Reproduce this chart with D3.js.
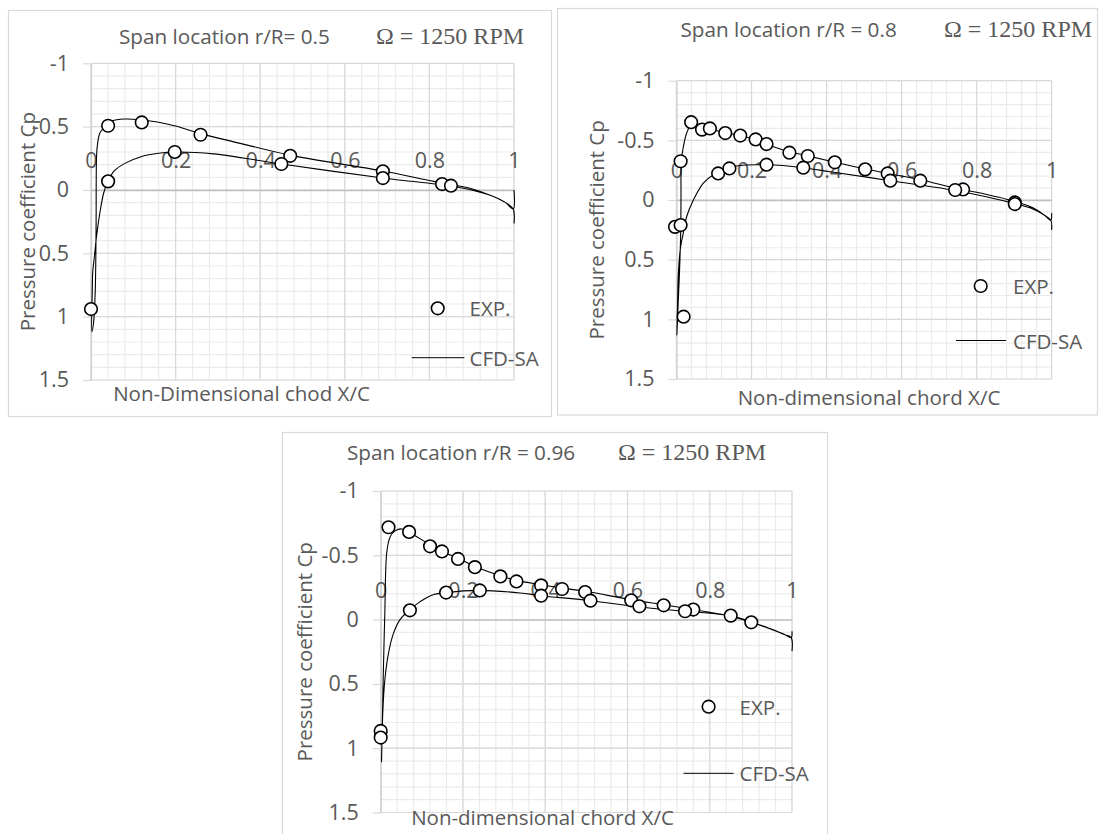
<!DOCTYPE html>
<html>
<head>
<meta charset="utf-8">
<script src="https://cdn.jsdelivr.net/npm/d3@7"></script>
<style>
  body { margin: 0; background: #fff; }
  svg { display: block; font-family: 'Open Sans', sans-serif; }
</style>
</head>
<body>
<svg id="fig" width="1100" height="834"></svg>
<script>
// tick labels and legend entries
const xTicks = [0, 0.2, 0.4, 0.6, 0.8, 1]
const yTicks = [-1, -0.5, 0, 0.5, 1, 1.5]
const seriesNames = ['EXP.', 'CFD-SA']
const spanLabels = ['Span location r/R= 0.5', 'Span location r/R = 0.8', 'Span location r/R = 0.96']
const rpmLabel = 'Ω = 1250 RPM'
const yTitle = 'Pressure coefficient Cp'
const xTitles = ['Non-Dimensional chod X/C', 'Non-dimensional chord X/C', 'Non-dimensional chord X/C']

// experimental points [x/c, Cp]
const exp05 = [[0, 0.94], [0.0405, -0.507], [0.12, -0.533], [0.259, -0.436], [0.471, -0.27],
  [0.69, -0.147], [0.83, -0.047], [0.0405, -0.068], [0.198, -0.30], [0.45, -0.205],
  [0.69, -0.094], [0.851, -0.034]]
const exp08 = [[-0.004, 0.225], [0.011, 0.21], [0.011, -0.325], [0.019, 0.978], [0.039, -0.652],
  [0.068, -0.59], [0.089, -0.60], [0.13, -0.561], [0.17, -0.54], [0.211, -0.508], [0.24, -0.469],
  [0.301, -0.397], [0.35, -0.369], [0.422, -0.316], [0.503, -0.257], [0.563, -0.223], [0.65, -0.162],
  [0.764, -0.089], [0.902, 0.02], [0.111, -0.223], [0.141, -0.265], [0.24, -0.296], [0.338, -0.271],
  [0.57, -0.162], [0.743, -0.084], [0.902, 0.034]]
const exp096 = [[0.019, -0.718], [0.069, -0.682], [0.12, -0.57], [0.149, -0.53], [0.188, -0.472],
  [0.229, -0.408], [0.291, -0.336], [0.33, -0.297], [0.39, -0.266], [0.441, -0.238], [0.497, -0.214],
  [0.609, -0.15], [0.688, -0.111], [0.76, -0.078], [0.851, -0.031], [0.901, 0.021], [0, 0.866],
  [0, 0.917], [0.071, -0.072], [0.159, -0.21], [0.241, -0.227], [0.39, -0.186], [0.51, -0.147],
  [0.629, -0.103], [0.74, -0.065]]

// CFD curves, traced trailing edge -> upper surface -> leading edge -> lower surface -> trailing edge
const cfd05 = [[1, 0.265], [0.998, 0.15], [0.98, 0.10], [0.95, 0.05], [0.9, -0.01], [0.83, -0.055],
  [0.8, -0.075], [0.69, -0.15], [0.6, -0.2], [0.47, -0.275], [0.35, -0.37], [0.26, -0.445],
  [0.2, -0.505], [0.16, -0.535], [0.12, -0.553], [0.08, -0.56], [0.05, -0.545], [0.033, -0.5],
  [0.021, -0.45], [0.015, -0.35], [0.013, -0.25], [0.012, 0.3], [0.01, 0.8], [0.006, 1.05],
  [0.002, 1.12], [0.003, 0.8], [0.004, 0.655], [0.009, 0.497], [0.013, 0.366], [0.021, 0.18],
  [0.03, 0.024], [0.04, -0.068], [0.055, -0.15], [0.08, -0.21], [0.12, -0.265], [0.16, -0.29],
  [0.2, -0.30], [0.29, -0.285], [0.45, -0.205], [0.69, -0.095], [0.85, -0.032], [0.9, 0],
  [0.95, 0.05], [0.98, 0.10], [0.998, 0.15], [1, 0]]
const cfd08 = [[1, 0.25], [0.998, 0.17], [0.98, 0.125], [0.95, 0.065], [0.9, 0.01], [0.8, -0.065],
  [0.75, -0.095], [0.65, -0.17], [0.56, -0.225], [0.5, -0.262], [0.42, -0.318], [0.35, -0.37],
  [0.3, -0.405], [0.24, -0.468], [0.21, -0.505], [0.17, -0.54], [0.13, -0.565], [0.09, -0.592],
  [0.06, -0.61], [0.04, -0.63], [0.027, -0.56], [0.018, -0.44], [0.013, -0.33], [0.012, 0],
  [0.011, 0.3], [0.008, 0.6], [0.004, 0.9], [0.001, 1.13], [0.003, 0.85], [0.005, 0.614],
  [0.011, 0.39], [0.018, 0.28], [0.027, 0.14], [0.045, 0], [0.071, -0.14], [0.098, -0.21],
  [0.111, -0.223], [0.141, -0.265], [0.16, -0.285], [0.24, -0.295], [0.338, -0.271], [0.41, -0.237],
  [0.57, -0.162], [0.743, -0.08], [0.902, 0.03], [0.95, 0.075], [0.98, 0.125], [0.998, 0.17], [1, 0.11]]
const cfd096 = [[1, 0.245], [0.998, 0.14], [0.981, 0.116], [0.946, 0.072], [0.901, 0.021],
  [0.851, -0.026], [0.76, -0.078], [0.688, -0.116], [0.609, -0.155], [0.497, -0.22], [0.441, -0.245],
  [0.39, -0.271], [0.33, -0.305], [0.291, -0.341], [0.229, -0.413], [0.188, -0.478], [0.149, -0.53],
  [0.12, -0.581], [0.069, -0.68], [0.051, -0.705], [0.035, -0.69], [0.023, -0.645], [0.015, -0.53],
  [0.01, -0.05], [0.006, 0.47], [0.004, 0.8], [0.002, 1.105], [0.005, 0.73], [0.01, 0.47],
  [0.019, 0.26], [0.031, 0.107], [0.047, 0], [0.07, -0.075], [0.096, -0.14], [0.124, -0.19],
  [0.159, -0.21], [0.241, -0.227], [0.339, -0.207], [0.39, -0.186], [0.51, -0.147], [0.629, -0.098],
  [0.74, -0.065], [0.851, -0.03], [0.901, 0.018], [0.946, 0.07], [0.981, 0.114], [0.998, 0.14], [1, 0.09]]

// where each panel sits on the page
const panels = [
  { exp: exp05, cfd: cfd05, box: [8.5, 10.5, 551.5, 416.5], x0: 91, x1: 514, top: 63.3, bottom: 380,
    titleY: 43.7, spanX: 119, rpmX: 376, yTitleX: 27, xTitleX: 241.5, xTitleY: 401,
    legCircle: [437.7, 308.3], legLine: [411.7, 464.3, 357.7], legTextX: 469.5 },
  { exp: exp08, cfd: cfd08, box: [557.5, 8.5, 1097.5, 415], x0: 676.5, x1: 1051.6, top: 80.7, bottom: 379,
    titleY: 37, spanX: 680.5, rpmX: 944, yTitleX: 596, xTitleX: 869, xTitleY: 405,
    legCircle: [980.7, 286], legLine: [956, 1006, 340.5], legTextX: 1013 },
  { exp: exp096, cfd: cfd096, box: [282.5, 432.5, 827.5, 850], x0: 380.7, x1: 792, top: 491, bottom: 812.5,
    titleY: 460, spanX: 347, rpmX: 618, yTitleX: 304, xTitleX: 542.5, xTitleY: 825,
    legCircle: [708.6, 706.7], legLine: [683.6, 733.6, 773.3], legTextX: 739.6 }
]

const textGrey = '#595959'
const svg = d3.select('#fig')

panels.forEach((p, i) => {
  const g = svg.append('g')

  // panel frame
  g.append('rect')
    .attr('x', p.box[0]).attr('y', p.box[1])
    .attr('width', p.box[2] - p.box[0]).attr('height', p.box[3] - p.box[1])
    .attr('fill', '#fff').attr('stroke', '#d9d9d9').attr('stroke-width', 1.2)

  const x = d3.scaleLinear().domain([0, 1]).range([p.x0, p.x1])
  const y = d3.scaleLinear().domain([-1, 1.5]).range([p.top, p.bottom])

  // minor grid
  const minorX = d3.range(0, 1.0001, 0.04)
  const minorY = d3.range(-1, 1.5001, 0.1)
  g.selectAll('.mx').data(minorX).enter().append('line')
    .attr('x1', d => x(d)).attr('x2', d => x(d)).attr('y1', p.top).attr('y2', p.bottom)
    .attr('stroke', '#ebebeb').attr('stroke-width', 1.2)
  g.selectAll('.my').data(minorY).enter().append('line')
    .attr('x1', p.x0).attr('x2', p.x1).attr('y1', d => y(d)).attr('y2', d => y(d))
    .attr('stroke', '#ebebeb').attr('stroke-width', 1.2)

  // major grid
  g.selectAll('.gx').data(xTicks).enter().append('line')
    .attr('x1', d => x(d)).attr('x2', d => x(d)).attr('y1', p.top).attr('y2', p.bottom)
    .attr('stroke', '#d9d9d9').attr('stroke-width', 1.2)
  g.selectAll('.gy').data(yTicks).enter().append('line')
    .attr('x1', p.x0).attr('x2', p.x1).attr('y1', d => y(d)).attr('y2', d => y(d))
    .attr('stroke', '#d9d9d9').attr('stroke-width', 1.2)

  // y axis on the left, reversed so suction is up
  const yAxis = g.append('g')
    .attr('transform', `translate(${p.x0},0)`)
    .call(d3.axisLeft(y).tickValues(yTicks).tickSize(8).tickSizeOuter(0).tickPadding(14)
      .tickFormat(d => String(d)))
  yAxis.select('.domain').attr('stroke', '#cfcfcf').attr('stroke-width', 1.2)
  yAxis.selectAll('.tick line').attr('stroke', '#d9d9d9').attr('stroke-width', 1.2)
  yAxis.selectAll('text').attr('fill', textGrey).attr('font-size', 21.5)
    .attr('font-family', "'Open Sans', sans-serif")

  // x axis crosses at Cp = 0, labels sit above it
  const xAxis = g.append('g')
    .attr('transform', `translate(0,${y(0)})`)
    .call(d3.axisTop(x).tickValues(xTicks).tickSize(0).tickSizeOuter(0).tickPadding(22)
      .tickFormat(d => String(d)))
  xAxis.select('.domain').attr('stroke', '#bfbfbf').attr('stroke-width', 1.3)
  xAxis.selectAll('text').attr('fill', textGrey).attr('font-size', 21.5)
    .attr('font-family', "'Open Sans', sans-serif")

  // titles
  g.append('text').attr('x', p.spanX).attr('y', p.titleY)
    .attr('font-size', 20.7).attr('fill', textGrey).text(spanLabels[i])
  g.append('text').attr('x', p.rpmX).attr('y', p.titleY)
    .attr('font-family', "'Liberation Serif', 'Times New Roman', serif")
    .attr('font-size', 24).attr('fill', textGrey).text(rpmLabel)

  g.append('text')
    .attr('transform', `translate(${p.yTitleX},${(p.top + p.bottom) / 2}) rotate(-90)`)
    .attr('text-anchor', 'middle').attr('dominant-baseline', 'central')
    .attr('font-size', 20.5).attr('fill', textGrey).text(yTitle)
  g.append('text').attr('x', p.xTitleX).attr('y', p.xTitleY)
    .attr('text-anchor', 'middle').attr('font-size', 20.5).attr('fill', textGrey).text(xTitles[i])

  // CFD line
  const line = d3.line()
    .x(d => x(d[0])).y(d => y(d[1]))
    .curve(d3.curveCatmullRom.alpha(0.5))
  g.append('path').datum(p.cfd)
    .attr('d', line).attr('fill', 'none').attr('stroke', '#000').attr('stroke-width', 1.1)

  // experimental circles
  g.selectAll('.exp').data(p.exp).enter().append('circle')
    .attr('cx', d => x(d[0])).attr('cy', d => y(d[1])).attr('r', 6.3)
    .attr('fill', '#fff').attr('stroke', '#000').attr('stroke-width', 1.6)

  // legend
  g.append('circle').attr('cx', p.legCircle[0]).attr('cy', p.legCircle[1]).attr('r', 6.3)
    .attr('fill', '#fff').attr('stroke', '#000').attr('stroke-width', 1.6)
  g.append('text').attr('x', p.legTextX).attr('y', p.legCircle[1])
    .attr('dominant-baseline', 'central').attr('font-size', 20.5).attr('fill', textGrey)
    .text(seriesNames[0])
  g.append('line').attr('x1', p.legLine[0]).attr('x2', p.legLine[1])
    .attr('y1', p.legLine[2]).attr('y2', p.legLine[2])
    .attr('stroke', '#000').attr('stroke-width', 1)
  g.append('text').attr('x', p.legTextX).attr('y', p.legLine[2])
    .attr('dominant-baseline', 'central').attr('font-size', 20.5).attr('fill', textGrey)
    .text(seriesNames[1])
})
</script>
</body>
</html>
